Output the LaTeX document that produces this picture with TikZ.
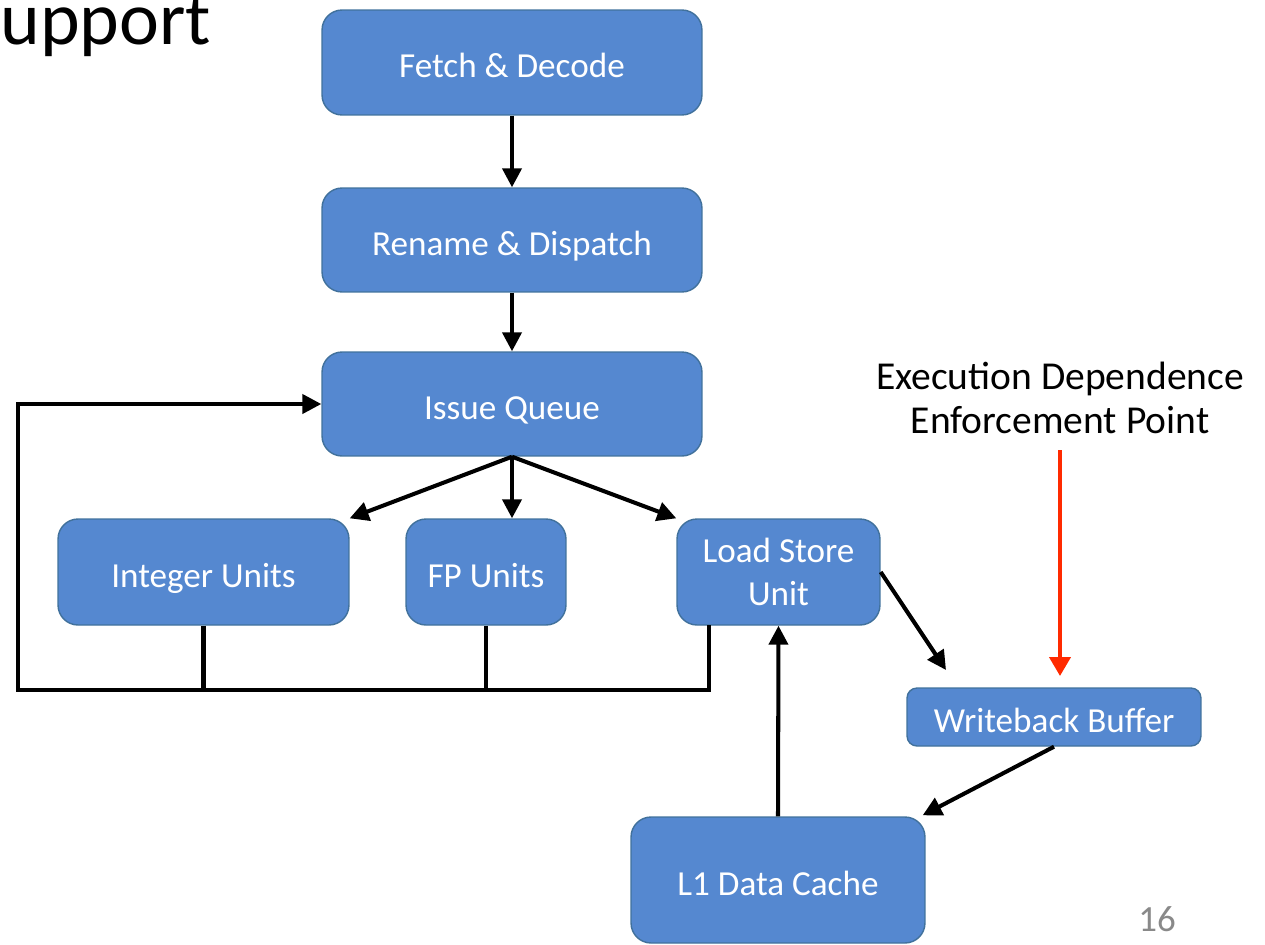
\documentclass[tikz,border=0pt]{standalone}
\usepackage{fontspec}
\setmainfont{Carlito}
\usetikzlibrary{arrows.meta,calc}
\definecolor{boxfill}{HTML}{5588D0}
\definecolor{boxline}{HTML}{41719C}
\definecolor{redarrow}{HTML}{FF2A00}
\definecolor{pagegray}{HTML}{898989}
\tikzset{
  blk/.style={draw=boxline, line width=0.8pt, fill=boxfill, rounded corners=0.4cm, text=white, font=\fontsize{20}{24}\selectfont, align=center, inner sep=0pt},
  oneline/.style={text height=18pt, text depth=0.4pt},
  conn/.style={line width=2.3pt, draw=black},
  arr/.style={conn, -{Triangle[length=0.38cm,width=0.38cm]}},
}
\begin{document}
\begin{tikzpicture}[x=0.02cm,y=-0.02cm]
\useasboundingbox (0,0) rectangle (1265,944);
% title fragment and page number
\node[anchor=base west, inner sep=0pt, font=\fontsize{43}{48}\selectfont] (title) at (0,44) {upport};
\node[anchor=base, inner sep=0pt, text=pagegray, font=\fontsize{21}{24}\selectfont] (page) at (1157,931) {16};
% blocks
\node[blk, oneline, minimum width=7.6cm, minimum height=2.1cm] (FD) at (512,62.5) {Fetch \& Decode};
\node[blk, oneline, minimum width=7.6cm, minimum height=2.08cm] (RD) at (512,240) {Rename \& Dispatch};
\node[blk, oneline, minimum width=7.6cm, minimum height=2.08cm] (IQ) at (512,404) {Issue Queue};
\node[blk, oneline, minimum width=5.82cm, minimum height=2.12cm] (INT) at (203.5,572) {Integer Units};
\node[blk, oneline, minimum width=3.2cm, minimum height=2.12cm] (FP) at (486,572) {FP Units};
\node[blk, minimum width=4.06cm, minimum height=2.12cm] (LSU) at (778.5,572) {Load Store\\Unit};
\node[blk, oneline, rounded corners=0.2cm, minimum width=5.88cm, minimum height=1.16cm] (WB) at (1054,717) {Writeback Buffer};
\node[blk, oneline, minimum width=5.88cm, minimum height=2.52cm] (L1) at (778,880) {L1 Data Cache};
% label
\node[align=center, inner sep=0pt, font=\fontsize{22.5}{25.5}\selectfont] (EDEP) at (1060,398) {Execution Dependence\\Enforcement Point};
% coordinates
\coordinate (busL) at (18,690);
\coordinate (busR) at (709,690);
\coordinate (lsutap) at (709,625);
\coordinate (wbin) at (946,670);
\coordinate (redstart) at (1060,450);
\coordinate (redend) at (1060,676);
% connectors
\draw[arr] (FD.south) -- (RD.north);
\draw[arr] (RD.south) -- (IQ.north);
\draw[arr] (IQ.south) -- (INT.north east);
\draw[arr] (IQ.south) -- (FP.north -| IQ.south);
\draw[arr] (IQ.south) -- (LSU.north west);
\draw[conn] (INT.south) -- (INT.south |- busL);
\draw[conn] (FP.south) -- (FP.south |- busL);
\draw[arr, line join=miter] (lsutap) -- (busR) -- (busL) |- (IQ.west);
\draw[arr] (LSU.east) -- (wbin);
\draw[arr] (WB.south) -- ([xshift=-0.06cm,yshift=0.02cm]L1.north east);
\draw[arr] (L1.north) -- (LSU.south);
\draw[conn, draw=redarrow, -{Triangle[length=0.38cm,width=0.42cm]}] (redstart) -- (redend);
\end{tikzpicture}
\end{document}
